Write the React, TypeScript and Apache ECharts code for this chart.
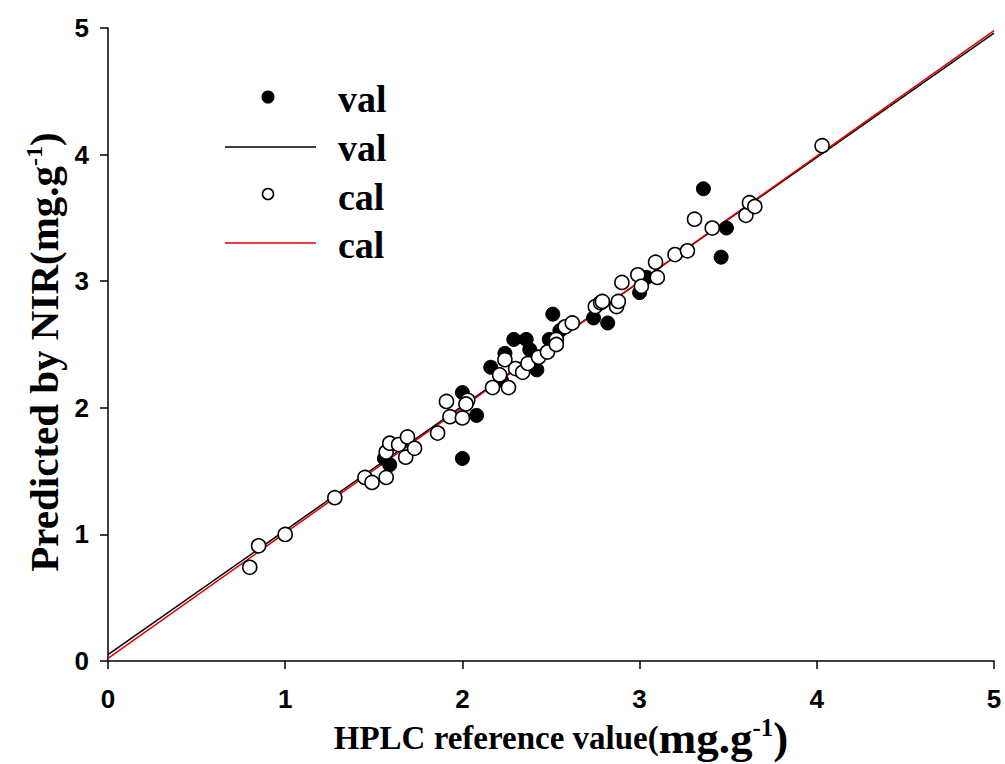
import React, { useEffect, useRef } from "react";
import * as echarts from "echarts";

const calX = [0.80, 0.85, 1.00, 1.28, 1.45, 1.49, 1.57, 1.57, 1.59, 1.64, 1.69, 1.68, 1.73, 1.86, 1.91, 1.93, 2.00, 2.03, 2.02, 2.17, 2.21, 2.24, 2.26, 2.30, 2.34, 2.37, 2.43, 2.48, 2.53, 2.53, 2.58, 2.62, 2.75, 2.78, 2.79, 2.87, 2.88, 2.90, 2.99, 3.01, 3.09, 3.10, 3.20, 3.27, 3.31, 3.41, 3.60, 3.62, 3.65, 4.03];
const calY = [0.74, 0.91, 1.00, 1.29, 1.45, 1.41, 1.45, 1.65, 1.72, 1.71, 1.77, 1.61, 1.68, 1.80, 2.05, 1.93, 1.92, 2.06, 2.03, 2.16, 2.26, 2.38, 2.16, 2.31, 2.28, 2.35, 2.40, 2.44, 2.54, 2.50, 2.64, 2.67, 2.80, 2.83, 2.84, 2.80, 2.84, 2.99, 3.05, 2.96, 3.15, 3.03, 3.21, 3.24, 3.49, 3.42, 3.52, 3.62, 3.59, 4.07];

const valX = [1.59, 1.56, 2.00, 2.00, 2.08, 2.16, 2.24, 2.22, 2.29, 2.36, 2.38, 2.42, 2.49, 2.51, 2.55, 2.74, 2.82, 3.00, 3.04, 3.36, 3.49, 3.46];
const valY = [1.55, 1.60, 1.60, 2.12, 1.94, 2.32, 2.43, 2.22, 2.54, 2.54, 2.46, 2.30, 2.54, 2.74, 2.61, 2.71, 2.67, 2.91, 3.03, 3.73, 3.42, 3.19];

// regression lines: [intercept, slope]
const valFit = [0.05, 0.982];
const calFit = [0.02, 0.992];
const lineRange = [0, 5];

const xTicks = [0, 1, 2, 3, 4, 5];

const zip = (a: number[], b: number[]) => a.map((v, i) => [v, b[i]]);
const fitLine = (f: number[]) => lineRange.map((x) => [x, f[0] + f[1] * x]);

export default function App() {
  const ref = useRef<HTMLDivElement>(null);
  useEffect(() => {
    if (!ref.current) return;
    const chart = echarts.init(ref.current, null, { renderer: "svg" });
    const tickLabel = {
      color: "#000",
      fontFamily: "Liberation Sans",
      fontWeight: "bold" as const,
      fontSize: 26,
    };
    const serif = { fontFamily: "Liberation Serif", fontWeight: "bold", fill: "#000" };
    const legendFont = { ...serif, fontSize: 38 };
    chart.setOption({
      animation: false,
      backgroundColor: "#fff",
      grid: { left: 108, right: 11, top: 28, bottom: 103, containLabel: false },
      xAxis: {
        type: "value",
        min: xTicks[0],
        max: xTicks[xTicks.length - 1],
        interval: 1,
        axisLine: { lineStyle: { color: "#000", width: 1.5 } },
        axisTick: { inside: false, length: 8, lineStyle: { color: "#000", width: 1.5 } },
        axisLabel: { ...tickLabel, margin: 25 },
        splitLine: { show: false },
      },
      yAxis: {
        type: "value",
        min: 0,
        max: 5,
        interval: 1,
        axisLine: { lineStyle: { color: "#000", width: 1.5 } },
        axisTick: { inside: false, length: 8, lineStyle: { color: "#000", width: 1.5 } },
        axisLabel: { ...tickLabel, margin: 19 },
        splitLine: { show: false },
      },
      series: [
        {
          type: "line",
          data: fitLine(valFit),
          symbol: "none",
          lineStyle: { color: "#000", width: 1.5 },
          z: 1,
        },
        {
          type: "line",
          data: fitLine(calFit),
          symbol: "none",
          lineStyle: { color: "#e00000", width: 1.5 },
          z: 2,
        },
        {
          type: "scatter",
          data: zip(valX, valY),
          symbol: "circle",
          symbolSize: 14,
          itemStyle: { color: "#000", borderColor: "#000", borderWidth: 1, opacity: 1 },
          z: 3,
        },
        {
          type: "scatter",
          data: zip(calX, calY),
          symbol: "circle",
          symbolSize: 14,
          itemStyle: { color: "#fff", borderColor: "#000", borderWidth: 1.6, opacity: 1 },
          z: 4,
        },
      ],
      graphic: [
        {
          type: "text",
          x: 561,
          y: 738,
          style: {
            text: "{a|HPLC reference value(}{b|mg.g}{s|-1}{b|)}",
            align: "center",
            verticalAlign: "middle",
            rich: {
              a: { ...serif, fontSize: 33, lineHeight: 46 },
              b: { ...serif, fontSize: 45, lineHeight: 46 },
              s: { ...serif, fontSize: 25, lineHeight: 46, verticalAlign: "top" },
            },
          },
        },
        {
          type: "text",
          x: 44,
          y: 352,
          rotation: Math.PI / 2,
          style: {
            text: "{a|Predicted by NIR(mg.g}{s|-1}{a|)}",
            align: "center",
            verticalAlign: "middle",
            rich: {
              a: { ...serif, fontSize: 41, lineHeight: 44 },
              s: { ...serif, fontSize: 24, lineHeight: 44, verticalAlign: "top" },
            },
          },
        },
        { type: "circle", shape: { cx: 268, cy: 97, r: 6.5 }, style: { fill: "#000" } },
        { type: "text", x: 338, y: 99, style: { ...legendFont, text: "val", verticalAlign: "middle" } },
        { type: "line", shape: { x1: 225, y1: 147, x2: 316, y2: 147 }, style: { stroke: "#000", lineWidth: 1.5 } },
        { type: "text", x: 338, y: 148, style: { ...legendFont, text: "val", verticalAlign: "middle" } },
        { type: "circle", shape: { cx: 268, cy: 194, r: 5.5 }, style: { fill: "#fff", stroke: "#000", lineWidth: 1.5 } },
        { type: "text", x: 338, y: 197, style: { ...legendFont, text: "cal", verticalAlign: "middle" } },
        { type: "line", shape: { x1: 225, y1: 243, x2: 316, y2: 243 }, style: { stroke: "#e00000", lineWidth: 1.5 } },
        { type: "text", x: 338, y: 245, style: { ...legendFont, text: "cal", verticalAlign: "middle" } },
      ],
    });
    return () => chart.dispose();
  }, []);
  return <div ref={ref} style={{ width: 1005, height: 764, position: "absolute", left: 0, top: 0 }} />;
}
